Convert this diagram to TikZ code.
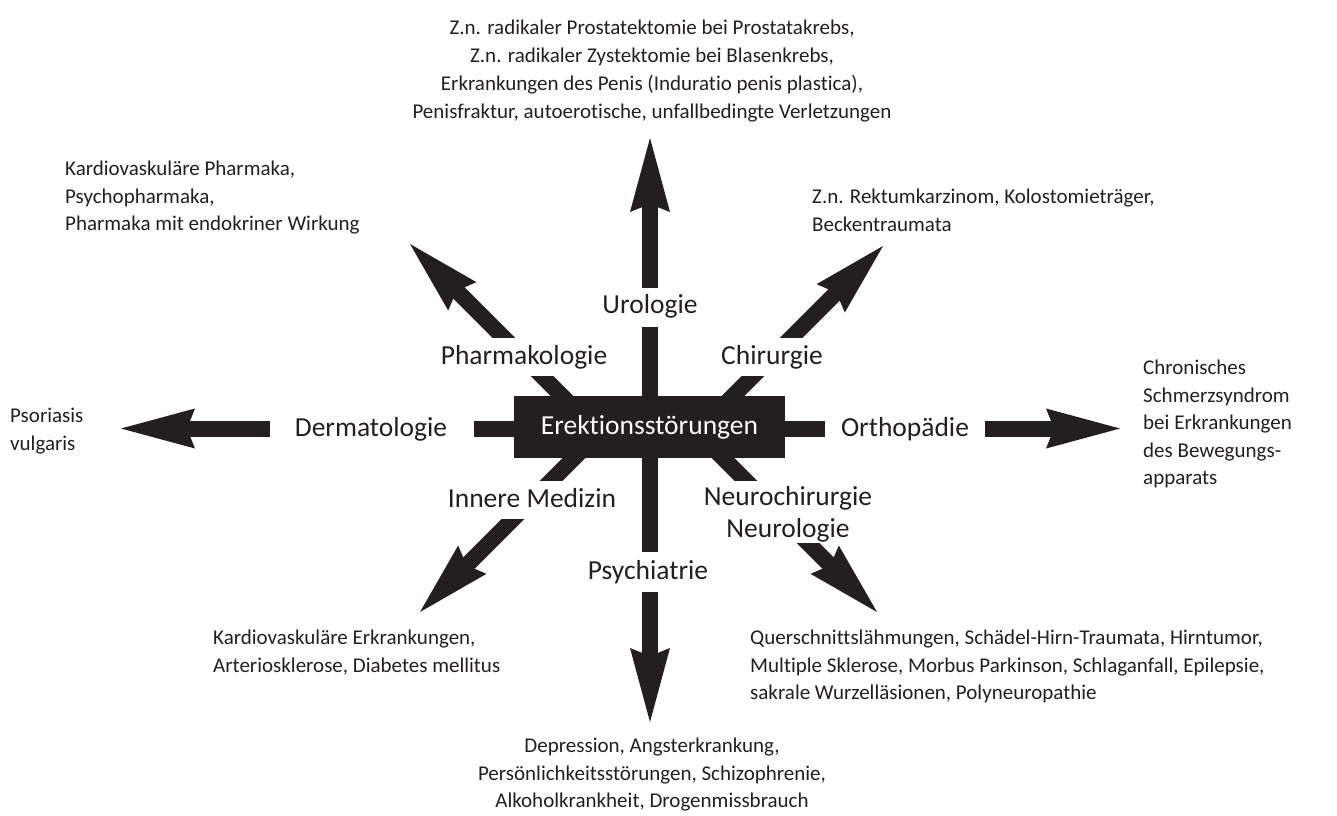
\documentclass[tikz,border=0pt]{standalone}
\usepackage{fontspec}
\setmainfont[Ligatures=NoCommon]{Carlito}
\usetikzlibrary{arrows.meta}
\definecolor{ink}{HTML}{231F20}
\pgfdeclarelayer{bg}
\pgfsetlayers{bg,main}
\begin{document}
\begin{tikzpicture}[x=1pt,y=-1pt,
  bar/.style={draw=ink, line width=16pt},
  arr/.style={bar, -{Stealth[length=74pt,width=40pt,inset=8pt,line width=0pt]}},
  lab/.style={font=\fontsize{27.5}{32}\selectfont, text=ink, anchor=base, inner sep=0pt},
  txt/.style={font=\fontsize{21}{27.5}\selectfont, text=ink, inner sep=0pt, align=left},
  corebox/.style={fill=ink, text=white, minimum width=271pt, minimum height=62pt, inner sep=0pt,
    font=\fontsize{27.5}{32}\selectfont}
]
\useasboundingbox (0,0) rectangle (1337,815);

% central box
\node[corebox] (core) at (649.5,427) {Erektionsstörungen};

% specialty labels
\node[lab] (uro) at (650,313) {Urologie};
\node[lab] (pharm) at (524,364) {Pharmakologie};
\node[lab] (chir) at (772,364) {Chirurgie};
\node[lab] (derm) at (371,436) {Dermatologie};
\node[lab] (ortho) at (905,436) {Orthopädie};
\node[lab] (inn) at (532,507) {Innere Medizin};
\node[lab, anchor=north, align=center] (neuro) at (788,486) {Neurochirurgie\\Neurologie};
\node[lab] (psy) at (648,579) {Psychiatrie};

% outer texts
\node[txt, anchor=north, align=center, font=\fontsize{21}{28}\selectfont] (tUro) at (652,20) {Z.n. radikaler Prostatektomie bei Prostatakrebs,\\Z.n. radikaler Zystektomie bei Blasenkrebs,\\Erkrankungen des Penis (Induratio penis plastica),\\Penisfraktur, autoerotische, unfallbedingte Verletzungen};
\node[txt, anchor=north west] (tPharm) at (65,161) {Kardiovaskuläre Pharmaka,\\Psychopharmaka,\\Pharmaka mit endokriner Wirkung};
\node[txt, anchor=north west] (tChir) at (812,189) {Z.n. Rektumkarzinom, Kolostomieträger,\\Beckentraumata};
\node[txt, anchor=north west] (tOrtho) at (1143,360) {Chronisches\\Schmerzsyndrom\\bei Erkrankungen\\des Bewegungs-\\apparats};
\node[txt, anchor=north west] (tDerm) at (10,408) {Psoriasis\\vulgaris};
\node[txt, anchor=north west] (tInn) at (213,630) {Kardiovaskuläre Erkrankungen,\\Arteriosklerose, Diabetes mellitus};
\node[txt, anchor=north west] (tNeuro) at (750,630) {Querschnittslähmungen, Schädel-Hirn-Traumata, Hirntumor,\\Multiple Sklerose, Morbus Parkinson, Schlaganfall, Epilepsie,\\sakrale Wurzelläsionen, Polyneuropathie};
\node[txt, anchor=north, align=center] (tPsy) at (652,738) {Depression, Angsterkrankung,\\Persönlichkeitsstörungen, Schizophrenie,\\Alkoholkrankheit, Drogenmissbrauch};

% connector coordinates
\coordinate (uS) at (650,327);   \coordinate (uA) at (650,288);   \coordinate (uT) at (650,138);
\coordinate (dS) at (650,552);   \coordinate (dA) at (650,592);   \coordinate (dT) at (650,722);
\coordinate (lS) at (474,428.5); \coordinate (lA) at (270,428.5); \coordinate (lT) at (121,428.5);
\coordinate (rS) at (825,428.5); \coordinate (rA) at (985,428.5); \coordinate (rT) at (1120,428.5);
% diagonals: C = centre crossing, X = stub extension, B = shaft start (beyond cut), T = tip
\coordinate (ulC) at (594,428); \coordinate (ulX) at (522,356); \coordinate (ulB) at (523,357); \coordinate (ulT) at (410,244);
\coordinate (urC) at (701,428); \coordinate (urX) at (773,356); \coordinate (urB) at (772,357); \coordinate (urT) at (883,246);
\coordinate (llC) at (604,428); \coordinate (llX) at (532,500); \coordinate (llB) at (533,499); \coordinate (llT) at (420,612);
\coordinate (lrC) at (693,428); \coordinate (lrX) at (765,500); \coordinate (lrB) at (788,523); \coordinate (lrT) at (877,612);

\begin{pgfonlayer}{bg}
  % straight stubs
  \draw[bar] (core.north -| uS) -- (uS);
  \draw[bar] (core.south -| dS) -- (dS);
  \draw[bar] (core.west |- lS) -- (lS);
  \draw[bar] (core.east |- rS) -- (rS);
  % straight arrows
  \draw[arr] (uA) -- (uT);
  \draw[arr] (dA) -- (dT);
  \draw[arr] (lA) -- (lT);
  \draw[arr] (rA) -- (rT);
  % diagonal stubs, cut horizontally
  \begin{scope}\clip (0,376) rectangle (1337,440);
    \draw[bar] (ulC) -- (ulX);
    \draw[bar] (urC) -- (urX);
  \end{scope}
  \begin{scope}\clip (0,420) rectangle (1337,480);
    \draw[bar] (llC) -- (llX);
    \draw[bar] (lrC) -- (lrX);
  \end{scope}
  % diagonal arrows, shafts cut horizontally
  \begin{scope}\clip (0,0) rectangle (1337,337);
    \draw[arr] (ulB) -- (ulT);
    \draw[arr] (urB) -- (urT);
  \end{scope}
  \begin{scope}\clip (0,519) rectangle (1337,815);
    \draw[arr] (llB) -- (llT);
  \end{scope}
  \begin{scope}\clip (0,543) rectangle (1337,815);
    \draw[arr] (lrB) -- (lrT);
  \end{scope}
\end{pgfonlayer}
\end{tikzpicture}
\end{document}
